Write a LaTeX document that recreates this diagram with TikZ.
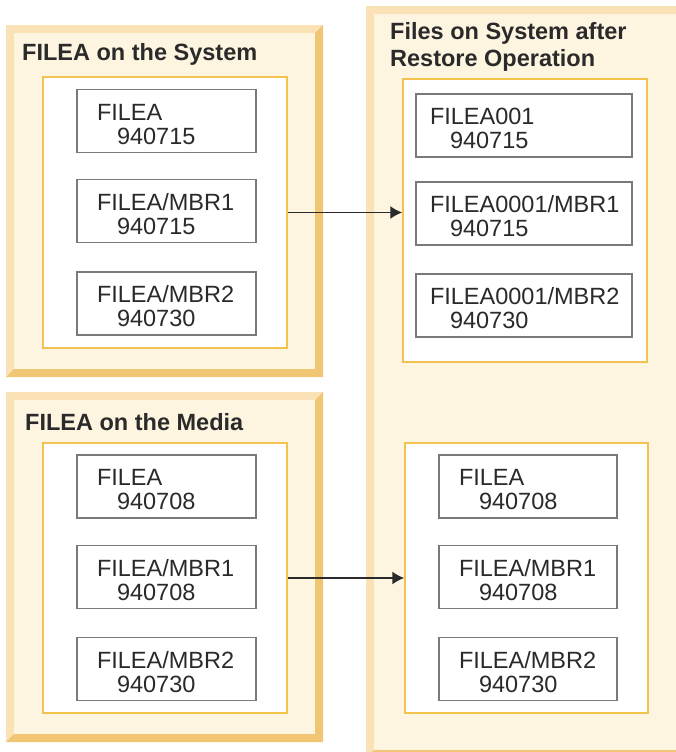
\documentclass[tikz,border=0pt]{standalone}
\usepackage{fontspec}
\setmainfont{Liberation Sans}
\usetikzlibrary{arrows.meta}
\pgfdeclarelayer{paperlayer}
\pgfdeclarelayer{edgelayer}
\pgfdeclarelayer{nodelayer}
\pgfsetlayers{paperlayer,edgelayer,nodelayer,main}
\definecolor{panelfill}{HTML}{FEF5E1}
\definecolor{panellight}{HTML}{FBE2B6}
\definecolor{paneldark}{HTML}{F0C674}
\definecolor{trayline}{HTML}{F2C14E}
\definecolor{fileline}{HTML}{7A7A7A}
\definecolor{ink}{HTML}{2A2A2A}
\tikzstyle{title}=[inner sep=0pt, text=ink, font=\fontsize{23.5}{27}\selectfont\bfseries, align=left]
\tikzstyle{tray}=[draw=trayline, fill=white, line width=1.5pt, inner sep=0pt]
\tikzstyle{file}=[draw=fileline, fill=white, line width=1.8pt, text=ink, font=\fontsize{23.5}{24}\selectfont, align=left, inner xsep=20pt, inner ysep=0pt, minimum height=63pt, text width=139pt, execute at begin node={\rule{0pt}{23pt}}]
\tikzstyle{flow}=[draw=ink, line width=1.5pt, -{Latex[length=12pt,width=13pt]}]
% bevelled panel: x1 y1 x2 y2
\newcommand{\bevelpanel}[4]{%
	\fill[panellight] (#1,#2) rectangle (#3,#4);
	\fill[paneldark] (#3,#2) -- (#3,#4) -- (#1,#4) -- ({#1+8},{#4-8}) -- ({#3-8},{#4-8}) -- ({#3-8},{#2+8}) -- cycle;
	\fill[panelfill] ({#1+8},{#2+8}) rectangle ({#3-8},{#4-8});
}
\begin{document}
\begin{tikzpicture}[x=1pt, y=-1pt]
	\useasboundingbox (0,0) rectangle (675,752);
	\begin{pgfonlayer}{paperlayer}
		\bevelpanel{6}{25}{323}{377}
		\bevelpanel{6}{392}{323}{742}
		\bevelpanel{366}{6}{690}{758}
	\end{pgfonlayer}
	\begin{pgfonlayer}{nodelayer}
		\node [title, anchor=base west] (systitle) at (22, 61) {FILEA on the System};
		\node [title, anchor=base west] (mediatitle) at (25, 430) {FILEA on the Media};
		\node [title, anchor=north west] (restitle) at (390, 22) {Files on System after\\Restore Operation};

		\node [tray, minimum width=244pt, minimum height=271pt] (systray) at (165, 212.5) {};
		\node [tray, minimum width=244pt, minimum height=283pt] (restray) at (525, 220.5) {};
		\node [tray, minimum width=244pt, minimum height=270pt] (mediatray) at (165, 578) {};
		\node [tray, minimum width=243pt, minimum height=270pt] (copytray) at (526.5, 578) {};

		\node [file] (sysfile1) at (166.5, 121) {FILEA\\\hspace*{20pt}940715};
		\node [file] (sysfile2) at (166.5, 211) {FILEA/MBR1\\\hspace*{20pt}940715};
		\node [file] (sysfile3) at (166.5, 303.5) {FILEA/MBR2\\\hspace*{20pt}940730};

		\node [file, inner xsep=14pt, text width=188pt] (resfile1) at (524, 125.5) {FILEA001\\\hspace*{20pt}940715};
		\node [file, inner xsep=14pt, text width=188pt] (resfile2) at (524, 213.5) {FILEA0001/MBR1\\\hspace*{20pt}940715};
		\node [file, inner xsep=14pt, text width=188pt] (resfile3) at (524, 305.5) {FILEA0001/MBR2\\\hspace*{20pt}940730};

		\node [file] (mediafile1) at (166.5, 486.5) {FILEA\\\hspace*{20pt}940708};
		\node [file] (mediafile2) at (166.5, 577) {FILEA/MBR1\\\hspace*{20pt}940708};
		\node [file] (mediafile3) at (166.5, 669) {FILEA/MBR2\\\hspace*{20pt}940730};

		\node [file, text width=138pt] (copyfile1) at (528, 486.5) {FILEA\\\hspace*{20pt}940708};
		\node [file, text width=138pt] (copyfile2) at (528, 577) {FILEA/MBR1\\\hspace*{20pt}940708};
		\node [file, text width=138pt] (copyfile3) at (528, 669) {FILEA/MBR2\\\hspace*{20pt}940730};
	\end{pgfonlayer}
	\begin{pgfonlayer}{edgelayer}
		\draw [flow] (systray.east) -- (systray.east -| restray.west);
		\draw [flow] (mediatray.east) -- (mediatray.east -| copytray.west);
	\end{pgfonlayer}
\end{tikzpicture}
\end{document}
